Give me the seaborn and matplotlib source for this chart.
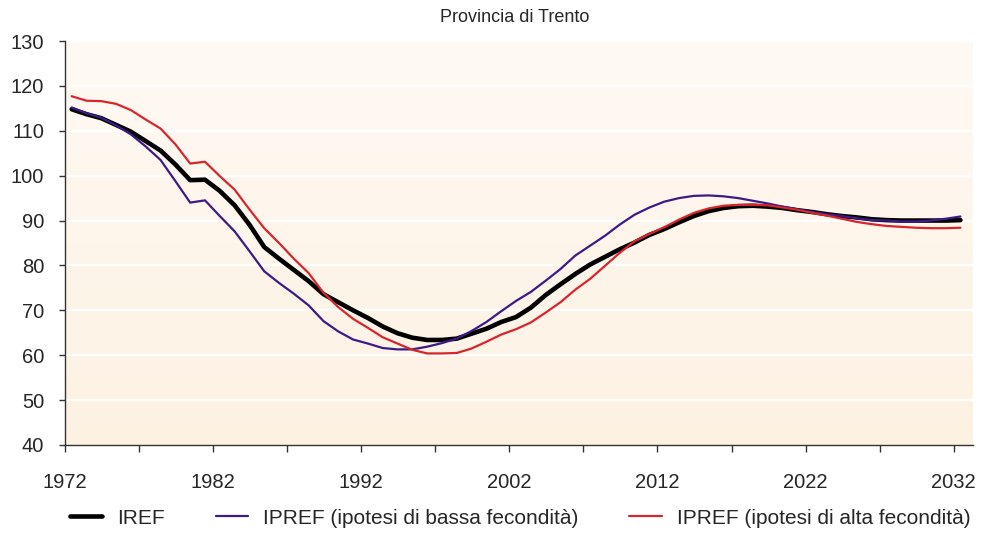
import numpy as np
import pandas as pd
import matplotlib
matplotlib.use("Agg")
import matplotlib.pyplot as plt
import seaborn as sns
from matplotlib.colors import LinearSegmentedColormap

years = list(range(1972, 2033))
iref = [114.8, 113.7, 112.8, 111.3, 109.8, 107.7, 105.6, 102.5, 99.0, 99.1,
        96.6, 93.4, 89.1, 84.1, 81.5, 79.0, 76.5, 73.6, 71.8, 70.0,
        68.3, 66.4, 64.9, 63.9, 63.4, 63.4, 63.7, 64.8, 65.9, 67.4,
        68.5, 70.6, 73.4, 75.8, 78.1, 80.2, 81.9, 83.6, 85.1, 86.8,
        88.1, 89.6, 91.0, 92.1, 92.8, 93.2, 93.3, 93.1, 92.8, 92.3,
        91.9, 91.4, 91.0, 90.7, 90.3, 90.1, 90.0, 90.0, 90.0, 90.0, 90.1]
bassa = [115.2, 113.9, 112.9, 111.2, 109.2, 106.5, 103.5, 98.8, 94.0, 94.5,
         91.0, 87.6, 83.2, 78.7, 76.1, 73.7, 71.1, 67.6, 65.3, 63.5,
         62.6, 61.6, 61.3, 61.3, 61.9, 62.7, 63.7, 65.4, 67.4, 69.8,
         72.1, 74.1, 76.6, 79.2, 82.2, 84.4, 86.6, 89.1, 91.3, 92.9,
         94.2, 95.0, 95.5, 95.6, 95.4, 95.0, 94.4, 93.8, 93.1, 92.5,
         91.9, 91.4, 91.0, 90.5, 90.1, 90.0, 89.8, 89.8, 90.0, 90.4, 90.9]
alta = [117.7, 116.7, 116.6, 116.0, 114.6, 112.5, 110.5, 107.0, 102.7, 103.1,
        99.9, 96.9, 92.5, 88.3, 85.0, 81.5, 78.3, 73.9, 70.7, 68.1,
        66.1, 64.0, 62.6, 61.2, 60.4, 60.4, 60.5, 61.5, 63.0, 64.6,
        65.8, 67.3, 69.5, 71.8, 74.6, 77.0, 79.9, 82.8, 85.4, 87.0,
        88.5, 90.2, 91.7, 92.7, 93.3, 93.5, 93.5, 93.4, 92.9, 92.4,
        91.7, 91.1, 90.4, 89.7, 89.2, 88.8, 88.6, 88.4, 88.3, 88.3, 88.4]

series_names = ["IREF", "IPREF (ipotesi di bassa fecondità)", "IPREF (ipotesi di alta fecondità)"]
title = "Provincia di Trento"
xtick_labels = [1972, 1982, 1992, 2002, 2012, 2022, 2032]
yticks = list(range(40, 131, 10))

sns.set_theme(style="white")
plt.rcParams["font.family"] = ["Liberation Sans", "DejaVu Sans"]

fig = plt.figure(figsize=(9.91, 5.33), dpi=100)
ax = fig.add_axes([65/991, 1-445/533, (973-65)/991, (445-41)/533])

# background gradient
cmap = LinearSegmentedColormap.from_list("bg", ["#fffaf4", "#fdf1e2"])
grad = np.linspace(0, 1, 256).reshape(-1, 1)
ax.imshow(grad, cmap=cmap, aspect="auto", extent=[0, 1, 0, 1],
          transform=ax.transAxes, zorder=0)

df = pd.DataFrame({"year": years, series_names[0]: iref,
                   series_names[1]: bassa, series_names[2]: alta})
df["xpos"] = df["year"] + 0.45

styles = [("#000000", 3.3), ("#3d1a87", 1.6), ("#d8262c", 1.6)]
for name, (col, lw) in zip(series_names, styles):
    sns.lineplot(data=df, x="xpos", y=name, ax=ax, color=col, linewidth=lw,
                 label=name, zorder=3)

ax.set_xlim(1972, 2033.3)
ax.set_ylim(40, 130)
ax.set_yticks(yticks)
ax.set_yticklabels([str(v) for v in yticks], fontsize=14.5)
ax.set_xticks(list(range(1972, 2033, 5)))
ax.set_xticklabels([str(y) if y in xtick_labels else "" for y in range(1972, 2033, 5)], fontsize=14.5)
ax.set_xlabel("")
ax.set_ylabel("")

for v in yticks[1:]:
    ax.axhline(v, color="white", linewidth=1.6, zorder=1)

for s in ["top", "right"]:
    ax.spines[s].set_visible(False)
for s in ["left", "bottom"]:
    ax.spines[s].set_color("#333333")
    ax.spines[s].set_linewidth(1.0)
ax.tick_params(axis="y", direction="out", length=4, width=1, color="#333333", pad=11, left=True)
ax.tick_params(axis="x", direction="out", length=5, width=1, color="#333333", pad=15, bottom=True)

ax.get_legend().remove()
handles, labels = ax.get_legend_handles_labels()
fig.legend(handles, labels, loc="center", bbox_to_anchor=(520/991, 1-518/533), ncol=3,
           frameon=False, fontsize=15, handlelength=1.55, handletextpad=0.72,
           columnspacing=2.45)

fig.text(515/991, 1-18/533, title, ha="center", va="center", fontsize=13)

fig.savefig("out.png", dpi=100)
